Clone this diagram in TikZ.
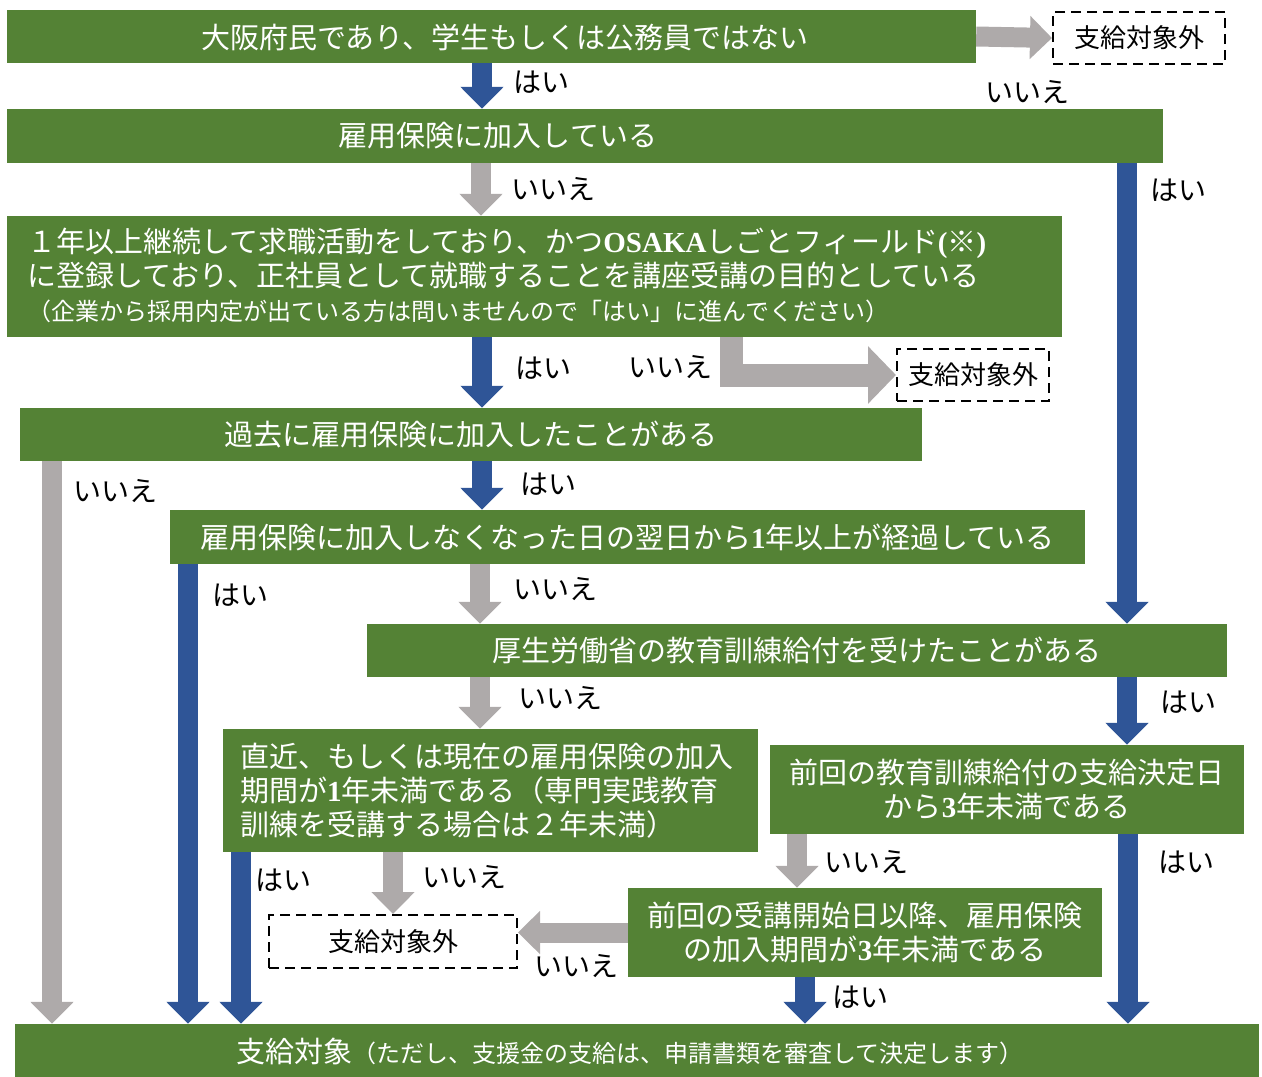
\documentclass[tikz,border=0pt]{standalone}
\usepackage{fontspec}
\setmainfont{Noto Sans CJK JP}
\newfontfamily\serifbf{Liberation Serif}
\usetikzlibrary{arrows.meta}
\definecolor{boxgreen}{RGB}{84,130,53}
\definecolor{yesblue}{RGB}{47,85,151}
\definecolor{nogray}{RGB}{174,170,170}
\newcommand{\zf}[1]{{\serifbf\bfseries #1}}

\begin{document}
\begin{tikzpicture}[x=1pt, y=-1pt,
		box/.style={fill=boxgreen, inner sep=0pt},
		boxtext/.style={text=white, inner sep=0pt, font=\fontsize{29}{34}\selectfont},
		outbox/.style={draw, dash pattern=on 10pt off 6pt, line width=2pt, inner sep=0pt, font=\fontsize{26}{30}\selectfont},
		lbl/.style={inner sep=0pt, font=\fontsize{28}{34}\selectfont},
		yes/.style={draw=yesblue, line width=20pt, -{Triangle[length=22pt, width=42pt]}},
		no/.style={draw=nogray, line width=20pt, line join=miter, -{Triangle[length=22pt, width=42pt]}}]
		\useasboundingbox (0,0) rectangle (1262,1077);
		% Kaesten
		\node[box, minimum width=969pt, minimum height=53pt] (ask1) at (491.5,36.5) {};
		\node[boxtext] (ask1t) at (505,37) {大阪府民であり、学生もしくは公務員ではない};
		\node[box, minimum width=1156pt, minimum height=54pt] (ask2) at (585,136) {};
		\node[boxtext] (ask2t) at (498,136) {雇用保険に加入している};
		\node[box, minimum width=1055pt, minimum height=121pt] (ask3) at (534.5,276.5) {};
		\node[boxtext, anchor=west, align=left] (ask3t) at (27,275) {１年以上継続して求職活動をしており、かつ\zf{OSAKA}しごとフィールド\zf{(}※\zf{)}\\
			に登録しており、正社員として就職することを講座受講の目的としている\\
			{\fontsize{24}{34}\selectfont （企業から採用内定が出ている方は問いませんので「はい」に進んでください）}};
		\node[box, boxtext, minimum width=902pt, minimum height=53pt] (ask4) at (471,434.5) {過去に雇用保険に加入したことがある};
		\node[box, boxtext, minimum width=915pt, minimum height=54pt] (ask5) at (627.5,537) {雇用保険に加入しなくなった日の翌日から\zf{1}年以上が経過している};
		\node[box, boxtext, minimum width=860pt, minimum height=53pt] (ask6) at (797,650.5) {厚生労働省の教育訓練給付を受けたことがある};
		\node[box, minimum width=535pt, minimum height=123pt] (ask7) at (490.5,790.5) {};
		\node[boxtext, anchor=west, align=left] (ask7t) at (240,791) {直近、もしくは現在の雇用保険の加入\\
			期間が\zf{1}年未満である（専門実践教育\\
			訓練を受講する場合は２年未満）};
		\node[box, boxtext, align=center, minimum width=474pt, minimum height=89pt] (ask8) at (1007,789.5) {前回の教育訓練給付の支給決定日\\から\zf{3}年未満である};
		\node[box, boxtext, align=center, minimum width=474pt, minimum height=89pt] (ask9) at (865,932.5) {前回の受講開始日以降、雇用保険\\の加入期間が\zf{3}年未満である};
		\node[box, minimum width=1244pt, minimum height=53pt] (ok) at (637,1050.5) {};
		\node[boxtext] (okt) at (630,1051) {支給対象{\fontsize{24}{30}\selectfont （ただし、支援金の支給は、申請書類を審査して決定します）}};
		% Nicht-Ziele
		\node[outbox, minimum width=172pt, minimum height=52pt] (out1) at (1139,38) {支給対象外};
		\node[outbox, minimum width=152pt, minimum height=52pt] (out2) at (973,375) {支給対象外};
		\node[outbox, minimum width=248pt, minimum height=53pt] (out3) at (393,941.5) {支給対象外};
		% Pfeile
		\draw[yes] (ask1.south -| 482,0) -- (ask2.north -| 482,0);
		\draw[no] (ask1.east) -- (out1.west);
		\draw[no] (ask2.south -| 481,0) -- (ask3.north -| 481,0);
		\draw[yes] (ask2.south -| 1127,0) -- (ask6.north -| 1127,0);
		\draw[yes] (ask3.south -| 482,0) -- (ask4.north -| 482,0);
		\draw[no, line width=23pt, -{Triangle[length=28pt, width=56pt]}] (ask3.south -| 731,0) |- (out2.west);
		\draw[yes] (ask4.south -| 482,0) -- (ask5.north -| 482,0);
		\draw[no] (ask4.south -| 52,0) -- (ok.north -| 52,0);
		\draw[yes] (ask5.south -| 188,0) -- (ok.north -| 188,0);
		\draw[no] (ask5.south -| 480,0) -- (ask6.north -| 480,0);
		\draw[no] (ask6.south -| 480,0) -- (ask7.north -| 480,0);
		\draw[yes] (ask6.south -| 1127,0) -- (ask8.north -| 1127,0);
		\draw[yes] (ask7.south -| 241,0) -- (ok.north -| 241,0);
		\draw[no] (ask7.south -| 393,0) -- (out3.north -| 393,0);
		\draw[no] (ask8.south -| 797,0) -- (ask9.north -| 797,0);
		\draw[yes] (ask8.south -| 1128,0) -- (ok.north -| 1128,0);
		\draw[no] (ask9.west) -- (ask9.west -| out3.east);
		\draw[yes] (ask9.south -| 805,0) -- (ok.north -| 805,0);
		% Beschriftung
		\node[lbl] (y1) at (541,82) {はい};
		\node[lbl] (n1) at (1027,92) {いいえ};
		\node[lbl] (n2) at (553,189) {いいえ};
		\node[lbl] (y2) at (1178,190) {はい};
		\node[lbl] (y3) at (543,368) {はい};
		\node[lbl] (n3) at (670,367) {いいえ};
		\node[lbl] (y4) at (548,484) {はい};
		\node[lbl] (n4) at (115,491) {いいえ};
		\node[lbl] (y5) at (240,595) {はい};
		\node[lbl] (n5) at (555,589) {いいえ};
		\node[lbl] (n6) at (560,698) {いいえ};
		\node[lbl] (y6) at (1188,702) {はい};
		\node[lbl] (y7) at (283,880) {はい};
		\node[lbl] (n7) at (464,877) {いいえ};
		\node[lbl] (n8) at (866,862) {いいえ};
		\node[lbl] (y8) at (1186,862) {はい};
		\node[lbl] (n9) at (576,966) {いいえ};
		\node[lbl] (y9) at (860,997) {はい};
	\end{tikzpicture}
\end{document}
